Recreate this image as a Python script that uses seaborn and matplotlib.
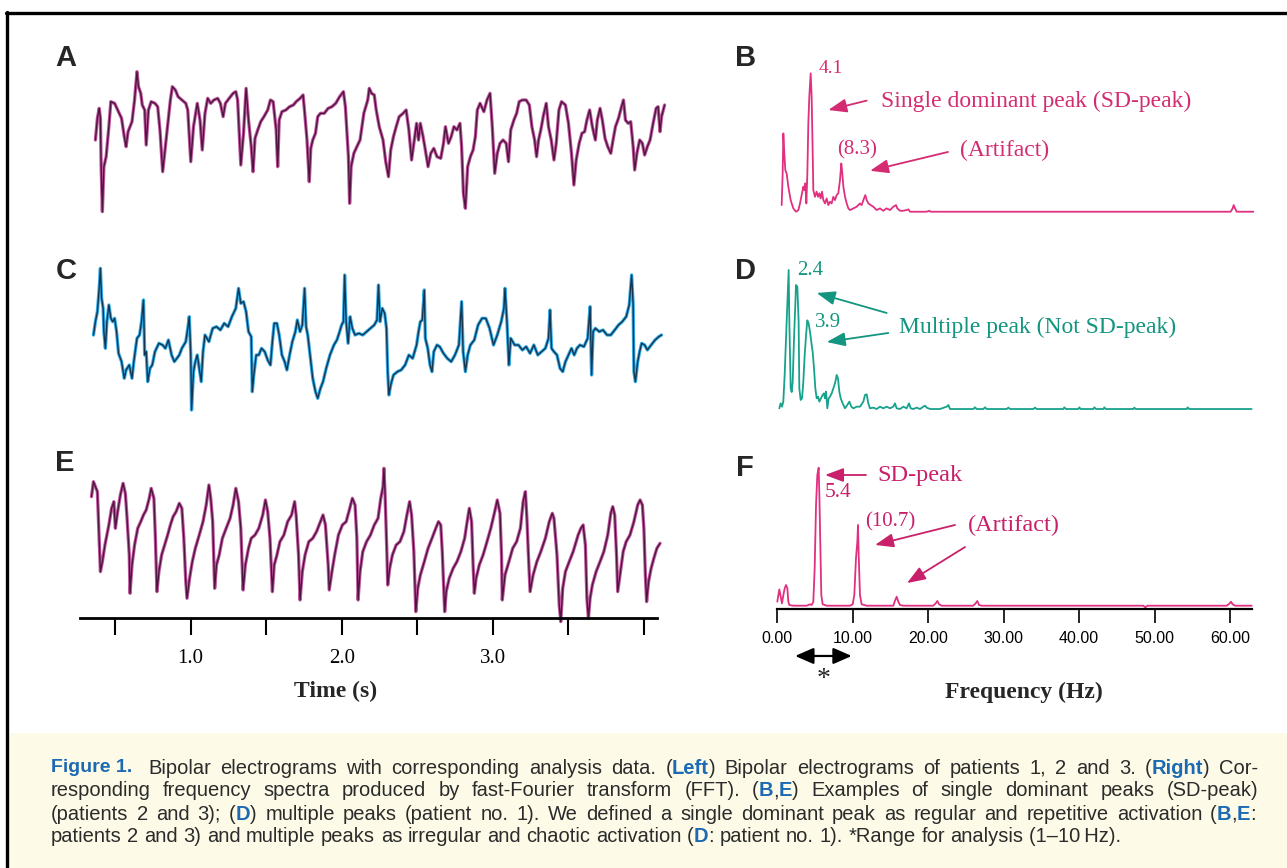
import matplotlib
matplotlib.use("Agg")
import matplotlib.pyplot as plt
import seaborn as sns
import pandas as pd
from matplotlib.lines import Line2D
from matplotlib.patches import Rectangle

W, H = 1287, 868

# ---- electrograms: (time s, amplitude a.u.) ----
A_trace = [(0.370,-10),(0.383,55),(0.395,85),(0.403,55),(0.408,-90),(0.416,-225),(0.426,-90),(0.441,-60),(0.459,30),(0.472,105),(0.497,100),(0.523,75),(0.543,55),(0.561,0),(0.573,-30),(0.586,15),(0.612,45),(0.629,110),(0.645,195),(0.655,150),(0.670,130),(0.680,95),(0.696,80),(0.706,-25),(0.721,80),(0.739,105),(0.764,100),(0.782,90),(0.797,20),(0.815,-105),(0.833,-30),(0.848,30),(0.866,110),(0.879,150),(0.899,140),(0.917,120),(0.942,110),(0.968,100),(0.981,80),(1.001,-75),(1.019,30),(1.044,100),(1.062,50),(1.077,-40),(1.095,70),(1.113,115),(1.133,100),(1.154,110),(1.179,115),(1.197,100),(1.215,60),(1.230,100),(1.255,115),(1.281,130),(1.299,135),(1.311,110),(1.332,-85),(1.350,10),(1.367,145),(1.383,50),(1.401,-30),(1.413,-105),(1.426,-5),(1.444,20),(1.464,45),(1.485,60),(1.510,80),(1.528,110),(1.546,105),(1.566,20),(1.576,-90),(1.586,50),(1.604,75),(1.630,80),(1.655,90),(1.680,95),(1.698,105),(1.724,115),(1.744,125),(1.757,60),(1.770,-10),(1.785,-135),(1.795,-35),(1.808,-10),(1.826,10),(1.841,60),(1.859,70),(1.884,70),(1.910,85),(1.935,90),(1.960,100),(1.986,120),(2.011,135),(2.024,90),(2.044,-60),(2.052,-200),(2.062,-90),(2.080,-50),(2.100,-30),(2.121,-10),(2.146,70),(2.172,110),(2.182,145),(2.197,130),(2.215,125),(2.228,80),(2.248,30),(2.273,-10),(2.291,-75),(2.309,-120),(2.324,-40),(2.342,0),(2.360,30),(2.380,60),(2.406,70),(2.426,80),(2.444,20),(2.462,-70),(2.477,-20),(2.495,40),(2.508,-10),(2.520,40),(2.538,0),(2.553,-40),(2.571,-90),(2.589,-50),(2.609,-35),(2.630,-60),(2.655,-65),(2.673,-20),(2.686,30),(2.706,-20),(2.724,0),(2.742,30),(2.762,20),(2.782,40),(2.793,-30),(2.805,-170),(2.818,-215),(2.833,-90),(2.851,-60),(2.869,-40),(2.884,0),(2.897,80),(2.915,100),(2.940,75),(2.961,110),(2.981,130),(2.996,30),(3.012,-110),(3.029,-50),(3.047,-20),(3.067,-10),(3.088,-20),(3.103,-75),(3.118,20),(3.139,50),(3.157,70),(3.174,105),(3.195,110),(3.220,110),(3.241,95),(3.258,30),(3.276,-10),(3.289,-60),(3.302,-10),(3.317,20),(3.335,65),(3.353,100),(3.368,30),(3.386,-10),(3.404,-70),(3.419,-20),(3.437,80),(3.454,105),(3.480,95),(3.500,40),(3.520,-50),(3.536,-145),(3.551,-70),(3.571,-20),(3.589,10),(3.607,15),(3.622,50),(3.640,80),(3.658,30),(3.678,-10),(3.691,50),(3.709,85),(3.724,50),(3.742,-5),(3.760,-30),(3.780,-50),(3.795,-10),(3.811,30),(3.831,55),(3.851,90),(3.864,110),(3.877,50),(3.895,40),(3.912,45),(3.928,-30),(3.938,-100),(3.953,-50),(3.971,-10),(3.989,-20),(4.004,-55),(4.022,-30),(4.040,-10),(4.060,40),(4.080,85),(4.093,90),(4.106,15),(4.116,60),(4.136,95)]

C_trace = [(0.357,-10),(0.370,30),(0.383,60),(0.395,130),(0.403,190),(0.411,100),(0.421,70),(0.426,0),(0.436,-50),(0.446,30),(0.459,80),(0.472,40),(0.484,30),(0.497,40),(0.510,0),(0.523,-65),(0.543,-90),(0.561,-140),(0.573,-115),(0.594,-100),(0.612,-140),(0.624,-90),(0.645,-20),(0.662,-10),(0.675,30),(0.688,95),(0.696,-70),(0.706,-60),(0.716,-150),(0.731,-110),(0.746,-100),(0.764,-60),(0.790,-35),(0.815,-40),(0.833,-50),(0.853,-25),(0.874,-70),(0.892,-90),(0.909,-80),(0.925,-70),(0.942,-50),(0.968,-30),(0.981,10),(0.991,45),(1.001,-70),(1.006,-235),(1.019,-120),(1.031,-90),(1.044,-70),(1.057,-110),(1.070,-150),(1.082,-60),(1.095,-10),(1.121,-30),(1.146,10),(1.171,15),(1.197,5),(1.222,25),(1.248,15),(1.273,45),(1.299,70),(1.317,130),(1.332,85),(1.350,90),(1.367,60),(1.383,0),(1.401,-15),(1.408,-180),(1.418,-130),(1.434,-70),(1.451,-70),(1.469,-50),(1.490,-60),(1.510,-85),(1.528,-100),(1.541,-30),(1.553,25),(1.571,25),(1.586,-10),(1.604,-70),(1.622,-90),(1.637,-115),(1.655,-70),(1.673,-30),(1.693,0),(1.706,35),(1.724,0),(1.739,20),(1.754,130),(1.764,15),(1.775,-10),(1.790,-70),(1.808,-140),(1.826,-180),(1.841,-200),(1.859,-170),(1.876,-150),(1.897,-110),(1.922,-70),(1.948,-40),(1.968,-25),(1.986,0),(1.999,20),(2.011,30),(2.019,170),(2.029,30),(2.042,-35),(2.055,45),(2.070,10),(2.088,-10),(2.113,-5),(2.139,-10),(2.164,0),(2.190,10),(2.215,20),(2.233,35),(2.243,140),(2.253,30),(2.268,70),(2.284,55),(2.296,10),(2.304,-120),(2.312,-190),(2.324,-160),(2.342,-130),(2.368,-120),(2.393,-115),(2.419,-100),(2.444,-70),(2.469,-80),(2.495,-40),(2.508,0),(2.520,30),(2.533,35),(2.546,125),(2.553,-20),(2.569,-50),(2.584,-100),(2.597,-120),(2.609,-60),(2.630,-40),(2.648,-45),(2.673,-65),(2.698,-80),(2.724,-90),(2.749,-70),(2.775,-40),(2.793,90),(2.803,-60),(2.818,-120),(2.833,-70),(2.851,-40),(2.877,-25),(2.902,20),(2.928,40),(2.953,40),(2.978,10),(3.004,-40),(3.029,-10),(3.055,30),(3.073,70),(3.080,130),(3.093,30),(3.106,-100),(3.118,-20),(3.144,-40),(3.169,-40),(3.195,-55),(3.220,-45),(3.246,-65),(3.271,-40),(3.297,-70),(3.322,-60),(3.347,-50),(3.368,-20),(3.378,65),(3.388,-50),(3.404,-60),(3.424,-70),(3.444,-110),(3.462,-120),(3.480,-90),(3.500,-70),(3.520,-50),(3.538,-70),(3.556,-50),(3.576,-40),(3.602,-45),(3.627,-20),(3.643,75),(3.653,-130),(3.663,0),(3.678,10),(3.704,0),(3.729,5),(3.755,-10),(3.780,-10),(3.806,5),(3.831,20),(3.856,30),(3.882,45),(3.902,80),(3.918,170),(3.928,80),(3.933,-120),(3.943,-150),(3.958,-90),(3.971,-60),(3.984,-35),(4.004,-40),(4.022,-55),(4.047,-40),(4.073,-25),(4.098,-15),(4.116,-10)]

E_trace = [(0.344,175),(0.357,220),(0.370,205),(0.383,190),(0.395,50),(0.403,-50),(0.416,-20),(0.433,30),(0.459,90),(0.477,140),(0.492,160),(0.502,80),(0.517,130),(0.535,180),(0.553,215),(0.568,185),(0.578,120),(0.594,0),(0.599,-115),(0.612,-30),(0.629,30),(0.650,80),(0.670,100),(0.688,120),(0.706,135),(0.726,170),(0.739,200),(0.757,170),(0.767,50),(0.777,-110),(0.790,-50),(0.808,0),(0.828,30),(0.848,60),(0.866,90),(0.884,115),(0.904,130),(0.925,155),(0.942,140),(0.955,50),(0.968,-80),(0.976,-130),(0.993,-70),(1.011,-20),(1.031,20),(1.057,60),(1.082,100),(1.103,150),(1.121,210),(1.133,170),(1.146,100),(1.159,-100),(1.171,-30),(1.189,0),(1.210,50),(1.235,80),(1.261,110),(1.281,150),(1.299,200),(1.317,160),(1.332,80),(1.347,-105),(1.362,-30),(1.383,20),(1.401,50),(1.426,60),(1.451,80),(1.477,120),(1.495,165),(1.510,130),(1.525,50),(1.541,-110),(1.553,-30),(1.571,0),(1.591,40),(1.617,60),(1.642,100),(1.668,120),(1.688,160),(1.698,120),(1.714,0),(1.724,-135),(1.739,-50),(1.757,0),(1.782,40),(1.808,50),(1.833,70),(1.859,100),(1.876,120),(1.892,90),(1.910,-30),(1.917,-105),(1.935,-50),(1.953,0),(1.978,60),(2.004,90),(2.029,100),(2.050,135),(2.070,170),(2.088,150),(2.100,50),(2.108,-135),(2.121,-50),(2.139,10),(2.164,40),(2.190,60),(2.215,90),(2.240,110),(2.258,170),(2.273,205),(2.279,260),(2.286,190),(2.299,0),(2.304,-90),(2.317,-40),(2.335,0),(2.360,30),(2.385,40),(2.411,70),(2.431,120),(2.449,160),(2.462,120),(2.477,10),(2.490,-170),(2.503,-100),(2.520,-60),(2.546,-20),(2.571,20),(2.597,50),(2.622,80),(2.640,100),(2.655,90),(2.665,10),(2.681,-170),(2.691,-110),(2.711,-70),(2.737,-40),(2.762,-20),(2.788,10),(2.813,50),(2.833,110),(2.844,140),(2.859,100),(2.869,-30),(2.877,-115),(2.889,-70),(2.910,-30),(2.935,0),(2.961,40),(2.986,80),(3.012,130),(3.029,165),(3.047,125),(3.057,0),(3.062,-135),(3.080,-60),(3.106,-20),(3.131,20),(3.157,40),(3.182,80),(3.200,160),(3.215,190),(3.225,110),(3.235,0),(3.246,-110),(3.266,-60),(3.291,-20),(3.317,10),(3.347,50),(3.373,100),(3.393,125),(3.404,110),(3.424,0),(3.439,-150),(3.449,-200),(3.462,-100),(3.480,-50),(3.505,-20),(3.531,10),(3.564,60),(3.582,80),(3.597,90),(3.612,30),(3.622,-130),(3.632,-190),(3.643,-130),(3.658,-90),(3.683,-50),(3.709,-20),(3.734,10),(3.760,60),(3.780,125),(3.793,145),(3.806,120),(3.818,0),(3.826,-110),(3.844,-50),(3.862,10),(3.882,40),(3.907,60),(3.933,100),(3.958,150),(3.974,165),(3.989,150),(3.999,80),(4.009,-60),(4.017,-140),(4.030,-80),(4.047,-40),(4.065,-10),(4.085,20),(4.106,35)]

# ---- FFT spectra: (frequency Hz, relative power, dominant peak = 100) ----
B_spectrum = [(0.09,4.8),(0.22,27.7),(0.31,56.6),(0.44,42.2),(0.57,30.1),(0.75,27.7),(0.97,18.1),(1.28,8.4),(1.63,2.4),(1.99,0),(2.30,1.2),(2.52,6.0),(2.78,13.3),(2.96,18.1),(3.09,15.7),(3.22,20.5),(3.36,6.0),(3.49,27.7),(3.62,63.9),(3.75,83.1),(3.93,100),(4.06,83.1),(4.19,44.6),(4.28,15.7),(4.50,10.8),(4.72,14.5),(4.90,10.8),(5.08,13.3),(5.25,9.6),(5.43,14.5),(5.61,8.4),(5.83,6.0),(6.05,9.6),(6.27,4.8),(6.49,7.2),(6.71,6.0),(6.93,10.8),(7.15,8.4),(7.37,12.0),(7.59,13.3),(7.81,22.9),(7.99,34.9),(8.12,27.7),(8.26,18.1),(8.48,10.8),(8.70,6.0),(8.92,2.4),(9.14,1.2),(9.58,2.4),(10.02,3.6),(10.46,6.0),(10.68,4.8),(10.99,9.6),(11.17,12.0),(11.35,8.4),(11.57,6.0),(11.88,4.8),(12.23,3.6),(12.67,1.2),(13.11,2.4),(13.55,0.7),(13.99,2.4),(14.44,1.2),(14.88,3.6),(15.23,4.8),(15.41,2.4),(15.76,0.7),(16.20,0.7),(16.64,1.2),(16.87,1.7),(17.09,0),(19.29,0),(19.65,0.7),(19.82,0),(59.03,0),(59.56,0),(59.82,2.4),(59.96,4.8),(60.14,2.4),(60.36,0),(62.56,0)]

D_spectrum = [(0.04,0.5),(0.22,4.1),(0.40,1.7),(0.57,5.3),(0.75,24.5),(0.93,50.8),(1.10,74.8),(1.28,100),(1.37,62.8),(1.55,14.9),(1.68,12.2),(1.81,19.4),(1.99,50.8),(2.16,74.8),(2.25,89.2),(2.43,88.0),(2.60,62.8),(2.69,14.9),(2.87,6.5),(3.05,7.7),(3.22,19.4),(3.40,38.6),(3.58,53.0),(3.75,63.8),(3.93,61.4),(4.11,55.4),(4.28,48.2),(4.46,41.0),(4.64,29.0),(4.81,14.9),(4.99,7.7),(5.17,8.9),(5.34,5.3),(5.56,7.7),(5.78,10.1),(5.96,11.3),(6.09,7.7),(6.23,12.5),(6.40,0.5),(6.58,7.7),(6.75,8.9),(6.98,11.3),(7.20,14.9),(7.42,18.5),(7.64,24.5),(7.81,22.1),(7.99,12.5),(8.17,7.7),(8.43,4.1),(8.74,0.5),(9.05,2.9),(9.32,5.3),(9.58,1.7),(9.85,0.5),(10.29,1.7),(10.73,1.7),(11.17,5.3),(11.39,10.1),(11.61,10.6),(11.83,4.1),(12.05,0.5),(12.49,1.0),(12.94,0),(13.38,1.7),(13.82,0.5),(14.26,1.7),(14.70,0.5),(15.14,1.7),(15.36,4.1),(15.58,0.5),(16.03,0),(16.47,1.7),(16.91,0.5),(17.22,4.1),(17.44,0.5),(17.79,0),(18.23,1.0),(18.68,0),(19.12,1.7),(19.34,2.4),(19.56,1.0),(20.00,0),(21.32,0),(22.21,1.7),(22.43,2.9),(22.65,0),(25.74,0),(25.96,1.2),(26.18,0),(27.06,0),(27.28,1.2),(27.51,0),(30.15,0),(30.38,1.0),(30.60,0),(33.69,0),(33.91,1.0),(34.13,0),(37.66,0),(37.79,1.2),(38.01,0),(39.65,0),(39.78,1.2),(39.96,0),(41.63,0),(41.77,1.2),(41.99,0),(42.96,0),(43.09,1.2),(43.27,0),(46.93,0),(47.06,1.0),(47.24,0),(53.99,0),(54.13,1.2),(54.30,0),(62.60,0)]

F_spectrum = [(0.04,2.9),(0.18,7.7),(0.31,11.8),(0.49,6.5),(0.66,1.7),(0.84,7.7),(1.02,12.6),(1.19,15.0),(1.37,12.6),(1.50,2.9),(1.63,0.5),(2.16,0),(3.93,0),(4.37,1.0),(4.59,0.5),(4.81,2.9),(4.99,27.1),(5.17,73.0),(5.34,94.7),(5.52,100),(5.61,80.2),(5.74,44.0),(5.87,7.7),(6.05,1.0),(6.58,0),(9.67,0),(10.02,1.0),(10.24,7.7),(10.46,34.3),(10.64,46.4),(10.73,58.5),(10.82,36.7),(10.99,7.7),(11.21,1.0),(11.88,0),(15.41,0),(15.58,2.9),(15.85,6.5),(16.07,2.9),(16.29,0.5),(16.73,0),(20.71,0),(21.02,1.7),(21.24,3.4),(21.46,1.0),(21.81,0),(26.00,0),(26.31,1.7),(26.53,3.4),(26.75,0.5),(27.11,0),(48.52,0),(48.79,-1.2),(49.05,0),(59.56,0),(59.91,1.4),(60.13,2.9),(60.35,1.0),(60.66,0),(62.87,0)]

time_ticks = [0.5, 1.0, 1.5, 2.0, 2.5, 3.0, 3.5, 4.0]
time_labels = ["", "1.0", "", "2.0", "", "3.0", "", ""]
freq_ticks = [0, 10, 20, 30, 40, 50, 60]
freq_labels = ["0.00", "10.00", "20.00", "30.00", "40.00", "50.00", "60.00"]
analysis_range = (2.4, 9.9)

caption_head = "Figure 1."
caption_lines = [
    "Bipolar electrograms with corresponding analysis data. (|Left|) Bipolar electrograms of patients 1, 2 and 3. (|Right|) Cor-",
    "responding frequency spectra produced by fast-Fourier transform (FFT). (|B|,|E|) Examples of single dominant peaks (SD-peak)",
    "(patients 2 and 3); (|D|) multiple peaks (patient no. 1). We defined a single dominant peak as regular and repetitive activation (|B|,|E|:",
    "patients 2 and 3) and multiple peaks as irregular and chaotic activation (|D|: patient no. 1). *Range for analysis (1\u201310\u2009Hz).",
]

PINK = "#e0307f"
TEAL = "#16a28b"
SERIF = ["Liberation Serif", "DejaVu Serif"]
SANS = ["Liberation Sans", "DejaVu Sans"]

sns.set_theme(style="white")
plt.rcParams["font.family"] = SERIF

fig = plt.figure(figsize=(W / 100, H / 100), dpi=100)
fig.patch.set_facecolor("white")


def px_axes(x0, y0, x1, y1):
    ax = fig.add_axes([x0 / W, 1 - y1 / H, (x1 - x0) / W, (y1 - y0) / H])
    ax.patch.set_alpha(0)
    return ax


def draw_trace(ax, pts, under, over):
    df = pd.DataFrame(pts, columns=["time", "amp"])
    sns.lineplot(data=df, x="time", y="amp", ax=ax, color=under, lw=2.4,
                 sort=False, estimator=None, clip_on=False)
    sns.lineplot(data=df, x="time", y="amp", ax=ax, color=over, lw=1.0,
                 sort=False, estimator=None, clip_on=False)
    ax.set_xlim(0.268, 4.238)
    ax.set_xlabel("")
    ax.set_ylabel("")


def draw_spectrum(ax, pts, color, x0):
    df = pd.DataFrame(pts, columns=["freq", "power"])
    sns.lineplot(data=df, x="freq", y="power", ax=ax, color=color, lw=1.3,
                 sort=False, estimator=None, clip_on=False)
    ax.set_xlim((770 - x0) / 7.55, (1260 - x0) / 7.55)
    ax.set_xlabel("")
    ax.set_ylabel("")


def arrow(ax, head, tail, color):
    ax.annotate("", xy=head, xytext=tail,
                arrowprops=dict(arrowstyle="-|>,head_length=0.8,head_width=0.3",
                                color=color, lw=1.3, shrinkA=0, shrinkB=0,
                                mutation_scale=14))


# --- left: electrograms ---
axA = px_axes(80, 60, 680, 220)
draw_trace(axA, A_trace, "#c25aa0", "#4e1440")
axA.set_ylim(-250, 230)
axA.set_axis_off()

axC = px_axes(80, 255, 680, 415)
draw_trace(axC, C_trace, "#35aee8", "#133552")
axC.set_ylim(-250, 230)
axC.set_axis_off()

axE = px_axes(80, 455, 680, 618.3)
draw_trace(axE, E_trace, "#c25aa0", "#4e1440")
axE.set_ylim(-190, 300)
for s in ["top", "left", "right"]:
    axE.spines[s].set_visible(False)
axE.spines["bottom"].set_bounds(0.268, 4.086)
axE.spines["bottom"].set_linewidth(2)
axE.spines["bottom"].set_color("black")
axE.set_yticks([])
axE.set_xticks(time_ticks)
axE.set_xticklabels(time_labels, family=SERIF, fontsize=15)
axE.tick_params(axis="x", direction="out", length=12, width=1.5, pad=10,
                colors="black", bottom=True)
fig.text(336 / W, 1 - 691 / H, "Time (s)", family=SERIF, weight="bold",
         fontsize=17, ha="center", va="center")

# --- right: spectra ---
axB = px_axes(770, 50, 1260, 225)
draw_spectrum(axB, B_spectrum, PINK, 781)
axB.set_ylim(-9.6, 116.9)
axB.set_axis_off()
bc = "#d42c72"
axB.text(6.62, 103.2, "4.1", color=bc, fontsize=14, family=SERIF, ha="center", va="center")
arrow(axB, (6.26, 73.5), (11.35, 80.3), bc)
axB.text(13.2, 79.5, "Single dominant peak (SD-peak)", color=bc, fontsize=17,
         family=SERIF, ha="left", va="center")
axB.text(10.07, 44.6, "(8.3)", color=bc, fontsize=15, family=SERIF, ha="center", va="center")
axB.text(23.7, 44.6, "(Artifact)", color=bc, fontsize=17, family=SERIF, ha="left", va="center")
arrow(axB, (11.79, 29.6), (22.12, 43.2), bc)

axD = px_axes(770, 255, 1260, 420)
draw_spectrum(axD, D_spectrum, TEAL, 779)
axD.set_ylim(-7.9, 110.8)
axD.set_axis_off()
dc = "#13957f"
axD.text(4.11, 99.3, "2.4", color=dc, fontsize=15, family=SERIF, ha="center", va="center")
axD.text(6.49, 62.6, "3.9", color=dc, fontsize=15, family=SERIF, ha="center", va="center")
axD.text(15.89, 59.0, "Multiple peak (Not SD-peak)", color=dc, fontsize=17,
         family=SERIF, ha="left", va="center")
arrow(axD, (4.99, 83.5), (14.26, 69.1), dc)
arrow(axD, (6.32, 48.2), (14.48, 54.7), dc)

axF = px_axes(770, 455, 1260, 609)
draw_spectrum(axF, F_spectrum, PINK, 777)
axF.set_ylim(-2.4, 109.2)
for s in ["top", "left", "right"]:
    axF.spines[s].set_visible(False)
axF.spines["bottom"].set_bounds(0, 62.9)
axF.spines["bottom"].set_linewidth(1.6)
axF.spines["bottom"].set_color("black")
axF.set_yticks([])
axF.set_xticks(freq_ticks)
axF.set_xticklabels(freq_labels, family=SANS, fontsize=11.5)
axF.tick_params(axis="x", direction="out", length=10, width=1.2, pad=6,
                colors="black", bottom=True)
fc = "#c8206a"
arrow(axF, (6.36, 94.7), (11.79, 94.7), fc)
axF.text(13.25, 94.7, "SD-peak", color=fc, fontsize=17.5, family=SERIF, ha="left", va="center")
axF.text(8.08, 81.7, "5.4", color=fc, fontsize=15.5, family=SERIF, ha="center", va="center")
axF.text(14.97, 60.7, "(10.7)", color=fc, fontsize=15, family=SERIF, ha="center", va="center")
axF.text(25.3, 57.8, "(Artifact)", color=fc, fontsize=17.5, family=SERIF, ha="left", va="center")
arrow(axF, (12.98, 44.0), (23.58, 58.5), fc)
arrow(axF, (17.22, 16.4), (24.90, 42.5), fc)
xt = axF.get_xaxis_transform()
axF.annotate("", xy=(analysis_range[0], -0.305), xytext=(analysis_range[1], -0.305),
             xycoords=xt, textcoords=xt,
             arrowprops=dict(arrowstyle="<|-|>,head_length=0.8,head_width=0.35",
                             color="black", lw=1.6, shrinkA=0, shrinkB=0,
                             mutation_scale=14))
axF.text(sum(analysis_range) / 2, -0.46, "*", transform=xt, fontsize=20,
         family=SERIF, ha="center", va="center")
fig.text(1024 / W, 1 - 692 / H, "Frequency (Hz)", family=SERIF, weight="bold",
         fontsize=17, ha="center", va="center")

# --- panel letters ---
for letter, (lx, ly) in zip("ABCDEF", [(66, 58), (746, 58), (66, 271), (746, 271),
                                       (65, 463), (745, 468)]):
    fig.text(lx / W, 1 - ly / H, letter, family=SANS, weight="bold", fontsize=21,
             ha="center", va="center")

# --- frame and caption box ---
fig.patches.append(Rectangle((8.5 / W, 0), 1, (868 - 733) / H, transform=fig.transFigure,
                             facecolor="#fdfbe7", edgecolor="none", zorder=0))
fig.lines.append(Line2D([6 / W, 1], [1 - 13 / H] * 2, transform=fig.transFigure,
                        color="black", lw=2.4))
fig.lines.append(Line2D([7 / W] * 2, [1 - 12 / H, 0], transform=fig.transFigure,
                        color="black", lw=2.4))

renderer = fig.canvas.get_renderer()
CAP_SIZE = 14.5
BLUE = "#1b6ab3"
GREY = "#2b2b2b"


def caption_line(line, x_start, x_end, y, justify):
    words = []
    for w in line.split(" "):
        pieces = []
        for k, piece in enumerate(w.split("|")):
            if not piece:
                continue
            blue = k % 2 == 1
            t = fig.text(0, 1 - y / H, piece, family=SANS, fontsize=CAP_SIZE,
                         color=BLUE if blue else GREY,
                         weight="bold" if blue else "normal", ha="left", va="center")
            pieces.append((t, t.get_window_extent(renderer).width))
        words.append(pieces)
    widths = [sum(p[1] for p in w) for w in words]
    if justify:
        gap = (x_end - x_start - sum(widths)) / (len(words) - 1)
    else:
        gap = 0.278 * CAP_SIZE * 100 / 72
    x = x_start
    for w, ww in zip(words, widths):
        xx = x
        for t, wpx in w:
            t.set_x(xx / W)
            xx += wpx
        x += ww + gap


head = fig.text(51 / W, 1 - 768 / H, caption_head, family=SANS, weight="bold",
                fontsize=14, color=BLUE, ha="left", va="center")
caption_line(caption_lines[0], 148, 1258, 768, True)
caption_line(caption_lines[1], 51, 1258, 791, True)
caption_line(caption_lines[2], 51, 1256, 814, True)
caption_line(caption_lines[3], 51, 1258, 837, False)

fig.savefig("out.png", dpi=100)
